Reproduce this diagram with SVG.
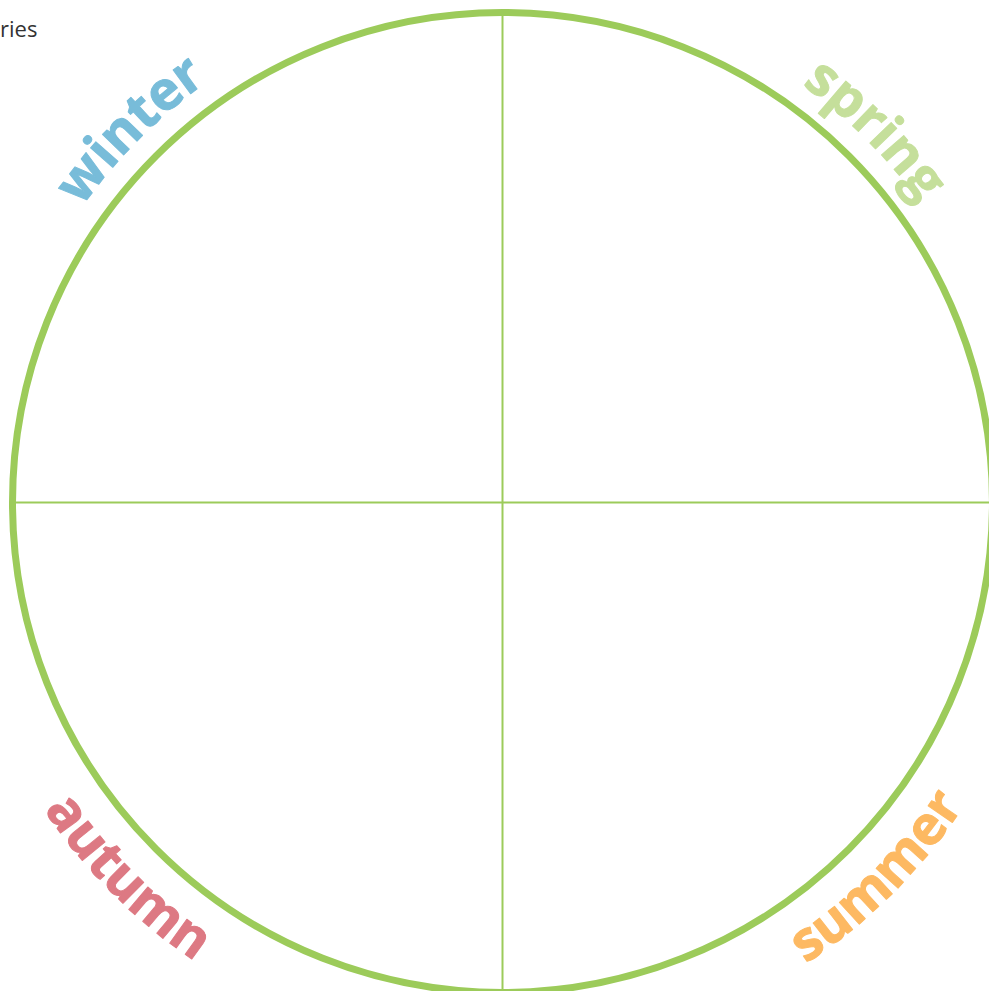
<svg xmlns="http://www.w3.org/2000/svg" width="989" height="991" viewBox="0 0 989 991">
  <style>
    .ring { fill: none; stroke: #9ccb5a; stroke-width: 7; }
    .axis { stroke: #9ccb5a; stroke-width: 2; fill: none; }
    .season { font-family: "Open Sans", "Liberation Sans", sans-serif; font-weight: bold; font-size: 54px; stroke-width: 1; stroke-linejoin: round; }
    .caption { font-family: "Open Sans", "Liberation Sans", sans-serif; font-size: 22px; fill: #333333; }
  </style>
  <defs>
    <path id="arc-winter" d="M -11.5 502.5 A 514 514 0 0 1 502.5 -11.5"/>
    <path id="arc-spring" d="M 502.5 -11.5 A 514 514 0 0 1 1016.5 502.5"/>
    <path id="arc-autumn" d="M -49.5 502.5 A 552 552 0 0 0 502.5 1054.5"/>
    <path id="arc-summer" d="M 502.5 1054.5 A 552 552 0 0 0 1054.5 502.5"/>
  </defs>
  <rect width="989" height="991" fill="#ffffff"/>
  <text class="caption" x="0" y="37">ries</text>
  <g id="wheel">
    <circle class="ring" cx="502.5" cy="502.5" r="490"/>
  </g>
  <g id="connectors">
    <line class="axis" x1="502.5" y1="14" x2="502.5" y2="991"/>
    <line class="axis" x1="14" y1="502.5" x2="989" y2="502.5"/>
  </g>
  <g id="winter">
    <text class="season" fill="#78bcd9" stroke="#78bcd9"><textPath href="#arc-winter" startOffset="50%" text-anchor="middle">winter</textPath></text>
  </g>
  <g id="spring">
    <text class="season" fill="#c5df9b" stroke="#c5df9b"><textPath href="#arc-spring" startOffset="50%" text-anchor="middle">spring</textPath></text>
  </g>
  <g id="autumn">
    <text class="season" fill="#dd7983" stroke="#dd7983"><textPath href="#arc-autumn" startOffset="50%" text-anchor="middle">autumn</textPath></text>
  </g>
  <g id="summer">
    <text class="season" fill="#fdb962" stroke="#fdb962"><textPath href="#arc-summer" startOffset="50%" text-anchor="middle">summer</textPath></text>
  </g>
</svg>
